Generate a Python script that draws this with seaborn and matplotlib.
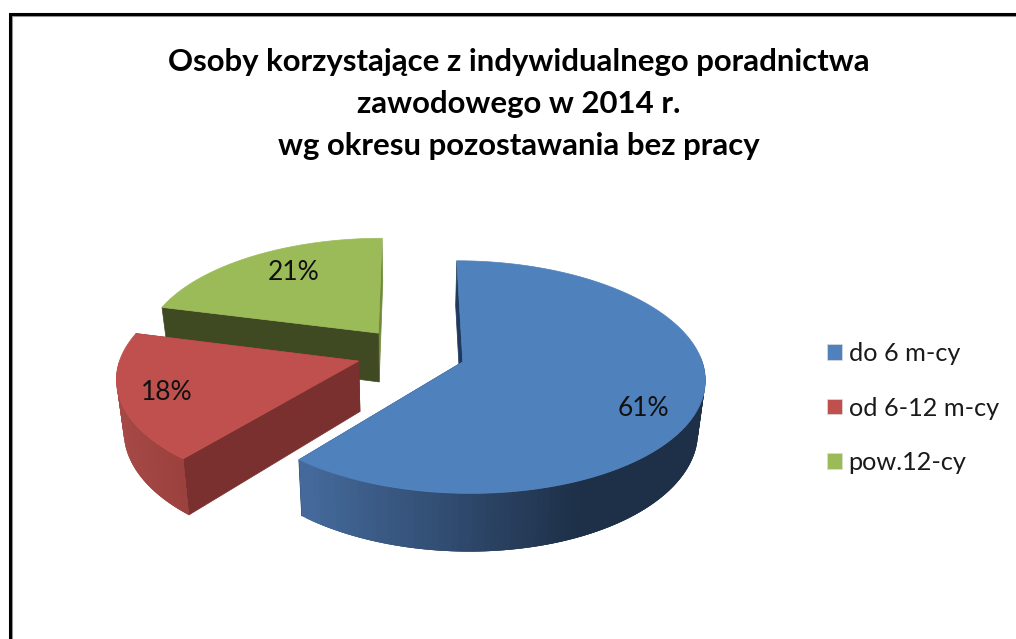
import numpy as np
import seaborn as sns
import matplotlib.pyplot as plt
from matplotlib.patches import Patch

# Dane z wykresu
categories = ['do 6 m-cy', 'od 6-12 m-cy', 'pow.12-cy']
shares = [61, 18, 21]
title = 'Osoby korzystające z indywidualnego poradnictwa\nzawodowego w 2014 r.\nwg okresu pozostawania bez pracy'

top_colors = ['#4f81bd', '#c0504d', '#9bbb59']
inner_colors = ['#1f3a5c', '#7a302e', '#404a22']
back_colors = ['#1f3a5c', '#7a302e', '#6f8b3a']
side_ramps = [['#44699a', '#1e3048'], ['#a64946', '#9a403d'], ['#6f8b3a', '#6f8b3a']]
side_x_range = [(305, 575), (120, 185), (170, 380)]
label_pos = [(643, 408), (167, 392), (294, 272)]

# Parametry perspektywy (piksele)
CX, CY = 411, 353
SX, SY = 237, 112
PERSP = 0.13
DEPTH = 50
SHRINK = 0.975
EXPLODE = 0.23

sns.set_theme(style='white')
plt.rcParams['font.family'] = ['Lato', 'DejaVu Sans']


def project(x, y, bottom=False):
    w = 1 + PERSP * y
    k = SHRINK if bottom else 1.0
    sx = CX + k * SX * x / w
    sy = CY - SY * y / w
    if bottom:
        sy = sy + DEPTH / w
    return sx, sy


fig = plt.figure(figsize=(10.16, 6.39), dpi=100)
ax = fig.add_axes([0, 0, 1, 1])
ax.set_xlim(0, 1016)
ax.set_ylim(639, 0)
ax.axis('off')

# Uklad wycinkow liczy matplotlib, tu tylko rzutowanie na "3D"
helper = fig.add_axes([0, 0, 0.1, 0.1])
wedges, _ = helper.pie(shares, startangle=90, counterclock=False, explode=[EXPLODE] * 3)
helper.set_visible(False)

# Rama
ax.plot([12, 12, 1016], [639, 16, 16], color='#999999', lw=1.5, solid_joinstyle='miter')
ax.plot([9.5, 9.5, 1016], [639, 13.5, 13.5], color='black', lw=2.2, solid_joinstyle='miter')

for i in [2, 1, 0]:
    w = wedges[i]
    cx, cy = w.center
    t = np.radians(np.linspace(w.theta1, w.theta2, 160))
    ax_x = cx + w.r * np.cos(t)
    ax_y = cy + w.r * np.sin(t)

    # scianki promieniowe
    for end, col in [(0, back_colors[i]), (-1, inner_colors[i])]:
        a = project(cx, cy)
        b = project(ax_x[end], ax_y[end])
        c = project(ax_x[end], ax_y[end], bottom=True)
        d = project(cx, cy, bottom=True)
        ax.fill([a[0], b[0], c[0], d[0]], [a[1], b[1], c[1], d[1]], color=col, lw=0.5)

    # bok zewnetrzny z gradientem (paski zachodza na siebie, zeby nie bylo szwow)
    ramp = sns.blend_palette(side_ramps[i], 64)
    x0, x1 = side_x_range[i]
    for j in range(len(t) - 1):
        if np.sin(t[j]) > 0 and np.sin(t[j + 1]) > 0:
            continue
        n = min(j + 3, len(t) - 1)
        xs = ax_x[j:n + 1]
        ys = ax_y[j:n + 1]
        tx, ty = project(xs, ys)
        bx, by = project(xs, ys, bottom=True)
        pos = np.clip((tx[0] - x0) / (x1 - x0), 0, 1)
        col = ramp[int(pos * 63)]
        ax.fill(np.concatenate([tx, bx[::-1]]), np.concatenate([ty, by[::-1]]), color=col, lw=0)

    # wierzch
    top_x = np.concatenate([[cx], ax_x])
    top_y = np.concatenate([[cy], ax_y])
    sx, sy = project(top_x, top_y)
    ax.fill(sx, sy, color=top_colors[i], lw=0.5)

for share, (lx, ly) in zip(shares, label_pos):
    ax.text(lx, ly, f'{share}%', ha='center', va='center', fontsize=19, color='#111111')

ax.text(519, 104, title, ha='center', va='center', fontsize=22.4, fontweight='bold',
        linespacing=1.62, color='black')

handles = [Patch(facecolor=c, edgecolor='#dddddd', lw=0.5) for c in top_colors]
fs = 18.2
ax.legend(handles, categories, loc='center left', bbox_to_anchor=(827, 408),
          bbox_transform=ax.transData, frameon=False, fontsize=fs,
          handlelength=10.5 / fs, handleheight=10.5 / fs, handletextpad=5 / fs,
          labelspacing=(40.7 - fs) / fs, borderpad=0, borderaxespad=0, labelcolor='#1a1a1a')

plt.savefig('out.png', dpi=100)
